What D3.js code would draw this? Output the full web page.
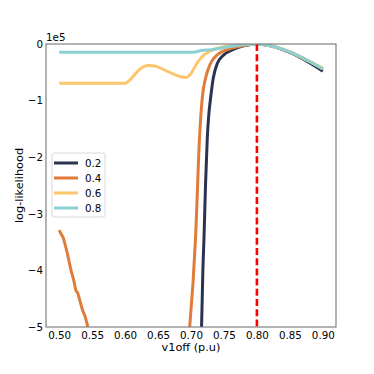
<!DOCTYPE html>
<html>
<head>
<meta charset="utf-8">
<script src="https://cdn.jsdelivr.net/npm/d3@7"></script>
<style>
  body { margin: 0; background: #fff; }
  text { font-family: "DejaVu Sans", sans-serif; }
</style>
</head>
<body>
<div class="chart"></div>
<script>
// series values, y in units of 1e5
var seriesNames = ["0.2", "0.4", "0.6", "0.8"];
var seriesColors = ["#2b3350", "#e07b39", "#fcc56e", "#8dd0d2"];

var curve02 = [[0.700,-6.5],[0.712,-5.6],[0.716,-5.0],[0.718,-4.0],[0.7197,-3.43],[0.722,-2.5],[0.7247,-1.66],[0.727,-1.25],[0.7298,-0.95],[0.7338,-0.6],[0.740,-0.34],[0.750,-0.19],[0.765,-0.09],[0.780,-0.03],[0.800,0],[0.820,-0.03],[0.850,-0.15],[0.875,-0.3],[0.900,-0.48]];
var curve04a = [[0.500,-3.29],[0.503,-3.36],[0.506,-3.42],[0.508,-3.5],[0.512,-3.68],[0.518,-4.0],[0.523,-4.22],[0.525,-4.34],[0.528,-4.4],[0.532,-4.56],[0.536,-4.72],[0.539,-4.8],[0.5435,-5.0],[0.550,-5.3]];
var curve04b = [[0.690,-5.8],[0.698,-5.0],[0.7069,-3.43],[0.7129,-1.66],[0.7171,-0.95],[0.7222,-0.6],[0.7298,-0.34],[0.740,-0.19],[0.7576,-0.09],[0.780,-0.03],[0.800,0],[0.820,-0.03],[0.850,-0.14],[0.875,-0.28],[0.900,-0.44]];
var curve06 = [[0.500,-0.695],[0.600,-0.695],[0.610,-0.6],[0.620,-0.47],[0.628,-0.4],[0.636,-0.38],[0.645,-0.39],[0.660,-0.46],[0.675,-0.54],[0.685,-0.58],[0.693,-0.59],[0.700,-0.52],[0.709,-0.34],[0.720,-0.19],[0.730,-0.12],[0.750,-0.05],[0.770,-0.015],[0.800,0],[0.820,-0.03],[0.850,-0.14],[0.875,-0.28],[0.900,-0.43]];
var curve08 = [[0.500,-0.147],[0.600,-0.147],[0.700,-0.147],[0.707,-0.14],[0.715,-0.115],[0.730,-0.1],[0.760,-0.045],[0.780,-0.015],[0.800,0],[0.820,-0.03],[0.850,-0.14],[0.875,-0.28],[0.900,-0.44]];
var seriesData = [[curve02], [curve04a, curve04b], [curve06], [curve08]];

var xTicks = [0.50, 0.55, 0.60, 0.65, 0.70, 0.75, 0.80, 0.85, 0.90];
var yTicks = [0, -1, -2, -3, -4, -5];
var trueValue = 0.8;

var margin = {top: 44, right: 38, bottom: 47, left: 46},
    width = 374 - margin.left - margin.right,
    height = 374 - margin.top - margin.bottom;

var svg = d3.select(".chart").append("svg")
    .attr("width", 374)
    .attr("height", 374)
  .append("g")
    .attr("transform", "translate(" + margin.left + "," + margin.top + ")");

var x = d3.scaleLinear().domain([0.48, 0.92]).range([0, width]);
var y = d3.scaleLinear().domain([-5, 0]).range([height, 0]);

svg.append("clipPath").attr("id", "clip")
  .append("rect").attr("width", width).attr("height", height);

var line = d3.line()
    .x(function(d){ return x(d[0]); })
    .y(function(d){ return y(d[1]); })
    .curve(d3.curveMonotoneX);

var plot = svg.append("g").attr("clip-path", "url(#clip)");

seriesData.forEach(function(parts, i){
  parts.forEach(function(p){
    plot.append("path")
      .datum(p)
      .attr("d", line)
      .attr("fill", "none")
      .attr("stroke", seriesColors[i])
      .attr("stroke-width", 3)
      .attr("stroke-linejoin", "round")
      .attr("stroke-linecap", "butt");
  });
});

plot.append("line")
    .attr("x1", x(trueValue)).attr("x2", x(trueValue))
    .attr("y1", y(0)).attr("y2", y(-5))
    .attr("stroke", "#ff0000")
    .attr("stroke-width", 2.6)
    .attr("stroke-dasharray", "7,3.2");

var xAxis = d3.axisBottom(x).tickValues(xTicks).tickFormat(d3.format(".2f")).tickSize(0).tickPadding(4.7);
var yAxis = d3.axisLeft(y).tickValues(yTicks).tickFormat(function(d){ return d === 0 ? "0" : "\u2212" + Math.abs(d); }).tickSize(0).tickPadding(3);

var gx = svg.append("g").attr("transform", "translate(0," + height + ")").call(xAxis);
var gy = svg.append("g").call(yAxis);
[gx, gy].forEach(function(g){
  g.select(".domain").remove();
  g.selectAll("text").attr("font-size", 10.3).attr("fill", "#000");
});

svg.append("rect")
    .attr("width", width).attr("height", height)
    .attr("fill", "none").attr("stroke", "#808080").attr("stroke-width", 1.2);

svg.append("text")
    .attr("x", 0).attr("y", -3.5)
    .attr("font-size", 10.3)
    .text("1e5");

svg.append("text")
    .attr("text-anchor", "middle")
    .attr("transform", "translate(" + (width/2) + "," + (height + 24) + ")")
    .attr("font-size", 11.3)
    .text("v1off (p.u)");

svg.append("text")
    .attr("text-anchor", "middle")
    .attr("transform", "translate(" + (-23) + "," + (height/2) + ")rotate(-90)")
    .attr("font-size", 11.3)
    .text("log-likelihood");

var legend = svg.append("g").attr("transform", "translate(6,109)");
legend.append("rect")
    .attr("width", 53).attr("height", 64).attr("rx", 2)
    .attr("fill", "#fff").attr("fill-opacity", 0.8)
    .attr("stroke", "#d9d9d9");
seriesNames.forEach(function(n, i){
  var row = legend.append("g").attr("transform", "translate(0," + (10 + i*15) + ")");
  row.append("line").attr("x1", 2).attr("x2", 26).attr("stroke", seriesColors[i]).attr("stroke-width", 3);
  row.append("text").attr("x", 33).attr("y", 4).attr("font-size", 10.3).text(n);
});
</script>
</body>
</html>
